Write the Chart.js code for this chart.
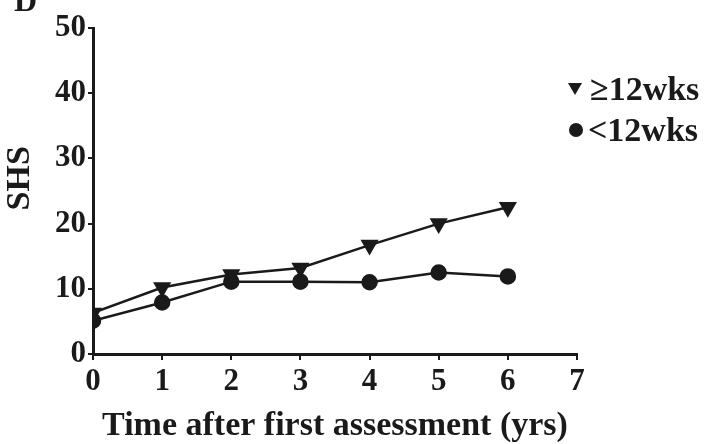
<!DOCTYPE html>
<html>
<head>
<meta charset="utf-8">
<script src="https://cdn.jsdelivr.net/npm/chart.js@4/dist/chart.umd.min.js"></script>
<style>
  html, body { margin: 0; padding: 0; background: #fff; }
  #wrap { width: 707px; height: 444px; position: relative; }
</style>
</head>
<body>
<div id="wrap"><canvas id="c"></canvas></div>
<script>
/* data */
var years = [0, 1, 2, 3, 4, 5, 6];
var over12 = [6.3, 10.2, 12.2, 13.2, 16.7, 20.0, 22.5];
var under12 = [5.1, 7.9, 11.1, 11.1, 11.0, 12.5, 11.9];
var legendLabels = ["\u226512wks", "<12wks"];

var FONT = "'Liberation Serif','Times New Roman',serif";
var INK = "#1a1a1a";

function pts(vals) {
  return vals.map(function(v, i) { return { x: years[i], y: v }; });
}

/* legend + panel letter drawn on the canvas */
var sideLegend = {
  id: "sideLegend",
  afterDraw: function(chart) {
    var ctx = chart.ctx;
    ctx.save();
    ctx.fillStyle = INK;
    // triangle (pointing down)
    ctx.beginPath();
    ctx.moveTo(568, 83); ctx.lineTo(582, 83); ctx.lineTo(575, 95);
    ctx.closePath(); ctx.fill();
    // circle
    ctx.beginPath();
    ctx.arc(576, 130, 7, 0, Math.PI * 2); ctx.fill();
    ctx.font = "bold 34px " + FONT;
    ctx.textBaseline = "alphabetic";
    ctx.fillText(legendLabels[0], 590, 100);
    ctx.fillText(legendLabels[1], 588, 141);
    // cut-off panel letter
    ctx.font = "bold 32px " + FONT;
    ctx.fillText("D", 14, 11);
    ctx.restore();
  }
};

new Chart(document.getElementById("c"), {
  type: "line",
  data: {
    datasets: [
      { label: legendLabels[0], data: pts(over12), borderColor: INK, backgroundColor: INK,
        borderWidth: 2.5, pointStyle: "triangle", rotation: 180, pointRadius: 8, tension: 0 },
      { label: legendLabels[1], data: pts(under12), borderColor: INK, backgroundColor: INK,
        borderWidth: 2.5, pointStyle: "circle", pointRadius: 7, tension: 0 }
    ]
  },
  options: {
    responsive: true, maintainAspectRatio: false, animation: false,
    layout: { padding: { top: 28, right: 130, left: 0, bottom: 0 } },
    plugins: { legend: { display: false }, tooltip: { enabled: false } },
    scales: {
      x: {
        type: "linear", min: 0, max: 7,
        afterFit: function(s) { s.height = 90; },
        border: { color: INK, width: 3 },
        grid: { drawOnChartArea: false, drawTicks: true, tickLength: 6, color: INK, lineWidth: 2 },
        ticks: { stepSize: 1, color: INK, padding: 3, font: { family: FONT, size: 31, weight: "bold" } },
        title: { display: true, text: "Time after first assessment (yrs)", color: INK,
                 padding: { top: 0, bottom: 0 }, font: { family: FONT, size: 34, weight: "bold", lineHeight: 1.05 } }
      },
      y: {
        min: 0, max: 50,
        afterFit: function(s) { s.width = 93; },
        border: { color: INK, width: 3 },
        grid: { drawOnChartArea: false, drawTicks: true, tickLength: 5, color: INK, lineWidth: 2 },
        ticks: { stepSize: 10, color: INK, padding: 2, font: { family: FONT, size: 31, weight: "bold" } },
        title: { display: true, text: "   SHS", color: INK, padding: { top: 0, bottom: 0 },
                 font: { family: FONT, size: 34, weight: "bold" } }
      }
    }
  },
  plugins: [sideLegend]
});
</script>
</body>
</html>
